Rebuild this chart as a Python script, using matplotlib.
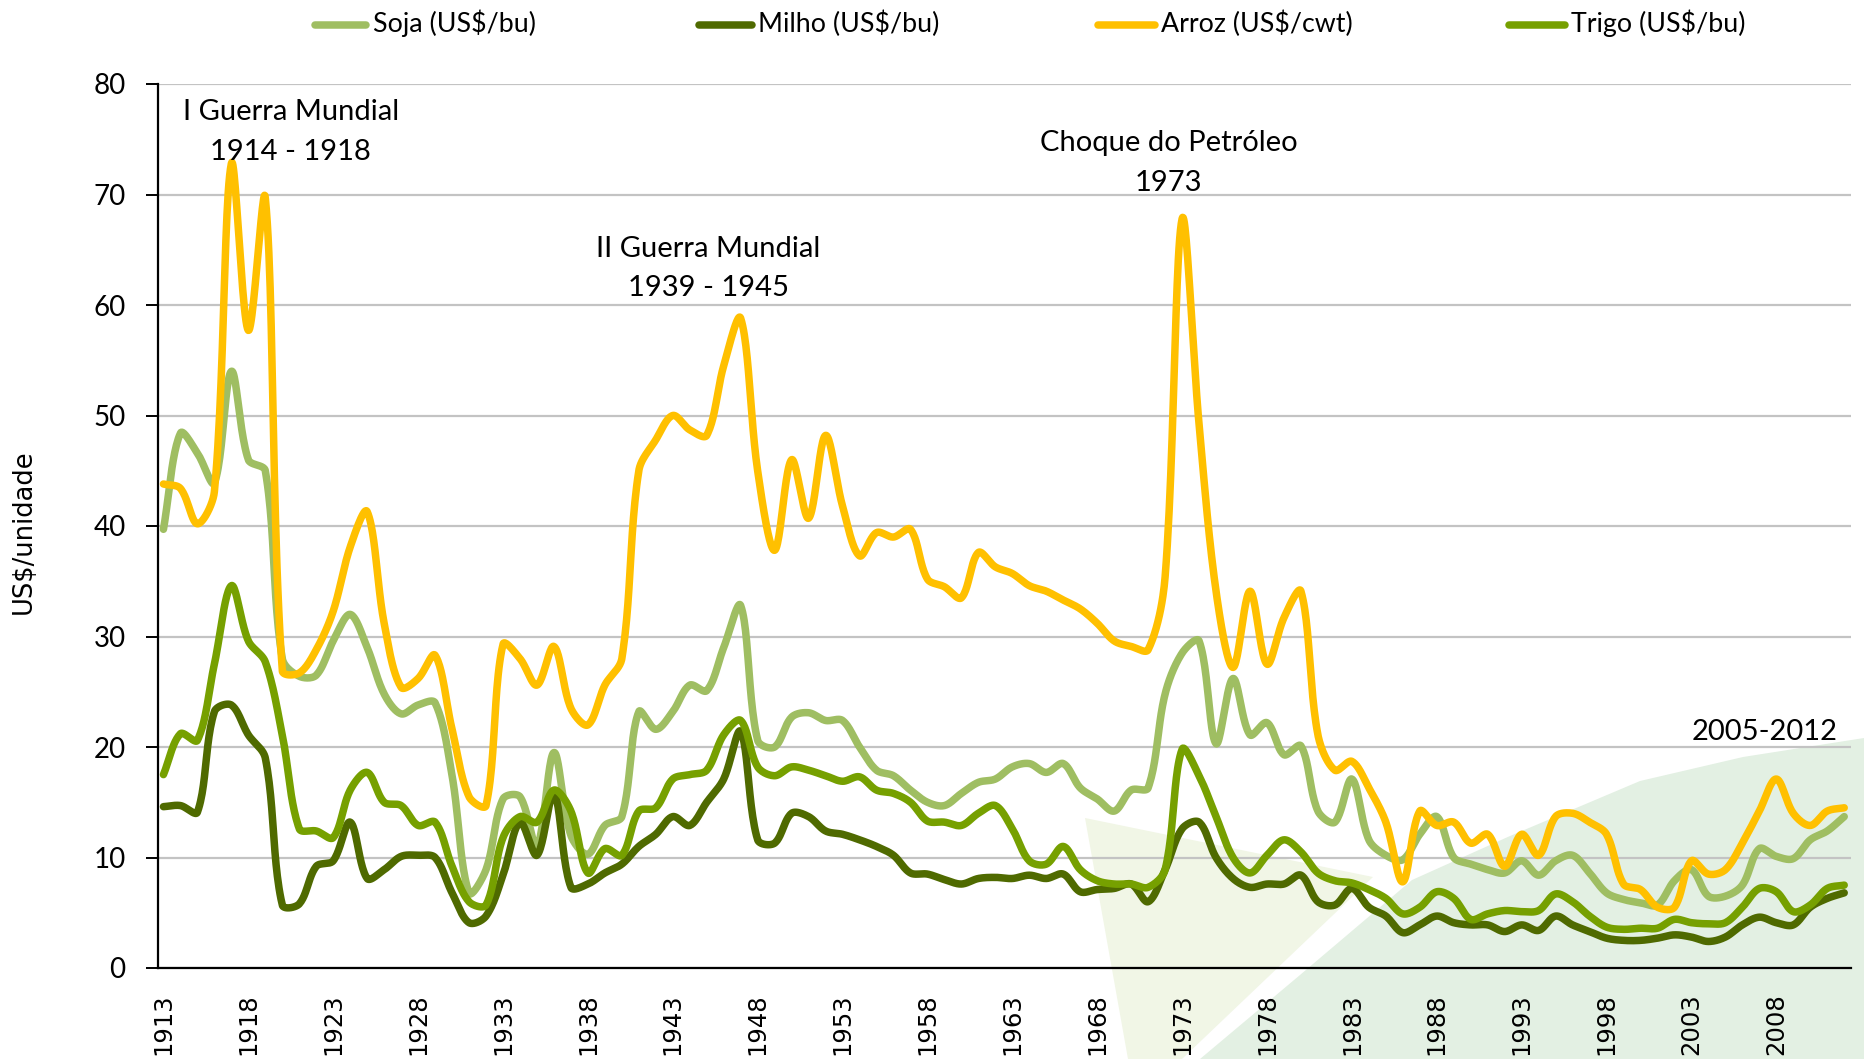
import numpy as np
import matplotlib
matplotlib.use("Agg")
import matplotlib.pyplot as plt
from matplotlib.lines import Line2D
from matplotlib.patches import Polygon

# ---------------- data ----------------
years = list(range(1913, 2013))

soja = [39.7, 48.4, 46.6, 43.9, 54.0, 46.0, 45.0, 28.0, 26.4, 26.5,
        29.6, 32.0, 29.0, 24.8, 23.0, 23.8, 24.0, 17.4, 6.8, 8.9,
        15.3, 15.5, 11.0, 19.5, 12.0, 10.3, 12.9, 13.7, 23.2, 21.6,
        23.2, 25.6, 25.1, 29.0, 32.8, 20.6, 20.0, 22.7, 23.1, 22.4,
        22.4, 20.0, 17.9, 17.4, 16.1, 15.0, 14.7, 15.8, 16.8, 17.1,
        18.2, 18.5, 17.7, 18.5, 16.3, 15.3, 14.2, 16.1, 16.3, 24.8,
        28.5, 29.6, 20.3, 26.2, 21.1, 22.2, 19.3, 20.1, 14.2, 13.2,
        17.1, 11.6, 10.2, 9.8, 12.1, 13.7, 10.0, 9.4, 8.9, 8.6,
        9.7, 8.4, 9.7, 10.2, 8.6, 6.8, 6.2, 5.9, 5.7, 7.9,
        8.9, 6.5, 6.5, 7.5, 10.8, 10.1, 9.9, 11.6, 12.4, 13.7]

milho = [14.6, 14.7, 14.1, 23.2, 23.8, 21.1, 19.0, 5.7, 5.8, 9.2,
         9.7, 13.2, 8.1, 8.9, 10.1, 10.2, 10.0, 6.8, 4.1, 4.7,
         8.4, 13.2, 10.2, 15.8, 7.3, 7.6, 8.6, 9.4, 11.0, 12.1,
         13.7, 12.9, 15.0, 17.1, 21.4, 11.6, 11.3, 14.0, 13.7, 12.4,
         12.1, 11.6, 11.0, 10.2, 8.6, 8.5, 8.0, 7.6, 8.1, 8.2,
         8.1, 8.4, 8.1, 8.5, 6.9, 7.1, 7.2, 7.6, 6.0, 8.9,
         12.6, 13.2, 10.0, 8.1, 7.3, 7.6, 7.6, 8.4, 6.0, 5.7,
         7.2, 5.5, 4.7, 3.2, 3.9, 4.7, 4.1, 3.9, 3.9, 3.3,
         3.9, 3.4, 4.7, 3.9, 3.3, 2.7, 2.5, 2.5, 2.7, 3.0,
         2.8, 2.4, 2.8, 3.9, 4.6, 4.1, 3.9, 5.5, 6.3, 6.8]

arroz = [43.8, 43.4, 40.2, 43.1, 72.8, 57.7, 69.7, 26.9, 26.7, 28.8,
         32.3, 38.1, 41.3, 31.2, 25.4, 26.2, 28.3, 21.6, 15.5, 14.7,
         29.3, 28.0, 25.6, 29.1, 23.5, 22.0, 25.6, 28.0, 45.0, 47.8,
         50.0, 48.7, 48.2, 54.5, 58.8, 45.0, 37.8, 46.0, 40.7, 48.2,
         41.8, 37.3, 39.4, 39.0, 39.7, 35.2, 34.5, 33.5, 37.6, 36.3,
         35.7, 34.6, 34.1, 33.3, 32.5, 31.2, 29.6, 29.1, 28.8, 35.4,
         67.8, 49.2, 34.1, 27.2, 34.1, 27.5, 31.7, 34.1, 21.1, 17.9,
         18.7, 16.3, 13.2, 7.8, 14.2, 12.9, 13.2, 11.3, 12.1, 9.2,
         12.1, 10.2, 13.7, 14.0, 13.2, 12.1, 7.6, 7.1, 5.5, 5.5,
         9.7, 8.5, 8.9, 11.3, 14.2, 17.1, 14.0, 12.9, 14.2, 14.5]

trigo = [17.5, 21.2, 20.6, 27.5, 34.6, 29.6, 27.7, 21.1, 12.6, 12.4,
         11.8, 16.1, 17.7, 15.0, 14.7, 12.9, 13.2, 9.2, 6.0, 5.7,
         11.8, 13.7, 13.2, 16.1, 14.2, 8.6, 10.8, 10.2, 14.2, 14.5,
         17.1, 17.5, 17.9, 21.1, 22.4, 18.2, 17.4, 18.2, 17.9, 17.4,
         16.9, 17.3, 16.1, 15.8, 15.0, 13.3, 13.2, 12.9, 14.0, 14.7,
         12.6, 9.7, 9.4, 11.0, 8.9, 7.9, 7.6, 7.6, 7.3, 8.9,
         19.8, 17.4, 13.7, 10.0, 8.6, 10.2, 11.6, 10.5, 8.6, 7.9,
         7.7, 7.1, 6.3, 4.9, 5.5, 6.9, 6.3, 4.4, 4.9, 5.2,
         5.1, 5.2, 6.7, 6.0, 4.7, 3.7, 3.5, 3.6, 3.6, 4.4,
         4.1, 4.0, 4.1, 5.5, 7.2, 6.9, 5.1, 5.7, 7.2, 7.5]

series_names = ["Soja (US$/bu)", "Milho (US$/bu)", "Arroz (US$/cwt)", "Trigo (US$/bu)"]
series_colors = ["#9FBE62", "#4F6A00", "#FFC000", "#76A000"]

tick_labels = ["1913", "1918", "1923", "1928", "1933", "1938", "1943", "1948",
               "1953", "1958", "1963", "1968", "1973", "1978", "1983", "1988",
               "1993", "1998", "2003", "2008"]
yticks = [0, 10, 20, 30, 40, 50, 60, 70, 80]

# ---------------- helpers ----------------
W, H = 1864, 1059
XPX, YPX = 17.0, 11.05  # screen pixels per year / per unit (for smoothing geometry)


def smooth(x, y, n=24):
    """Length-weighted Bezier smoothing (Excel-like) computed in screen space."""
    pts = np.column_stack([np.asarray(x, float) * XPX, np.asarray(y, float) * YPX])
    m = len(pts)
    cin = np.zeros_like(pts)
    cout = np.zeros_like(pts)
    for i in range(m):
        prv = pts[max(i - 1, 0)]
        nxt = pts[min(i + 1, m - 1)]
        d = nxt - prv
        lp = np.linalg.norm(pts[i] - prv)
        ln = np.linalg.norm(nxt - pts[i])
        tot = lp + ln if lp + ln > 0 else 1.0
        cout[i] = pts[i] + d * (ln / tot) / 3.0
        cin[i] = pts[i] - d * (lp / tot) / 3.0
    t = np.linspace(0, 1, n, endpoint=False)[:, None]
    out = []
    for i in range(m - 1):
        p1, c1, c2, p2 = pts[i], cout[i], cin[i + 1], pts[i + 1]
        seg = (1 - t) ** 3 * p1 + 3 * (1 - t) ** 2 * t * c1 + 3 * (1 - t) * t ** 2 * c2 + t ** 3 * p2
        out.append(seg)
    out.append(pts[-1:])
    o = np.vstack(out)
    return o[:, 0] / XPX, o[:, 1] / YPX


def fpx(px, py):
    return (px / W, 1 - py / H)


narrow = ['Liberation Sans Narrow', 'Lato', 'DejaVu Sans']
plt.rcParams['font.family'] = narrow

fig = plt.figure(figsize=(W / 100, H / 100), dpi=100)
fig.patch.set_facecolor('white')

# background decorative shapes
pale = [fpx(1085, 818), fpx(1373, 877), fpx(1182, 1059), fpx(1128, 1059)]
fig.add_artist(Polygon(pale, closed=True, transform=fig.transFigure,
                       facecolor='#F1F6E6', edgecolor='none', zorder=-5))
green = [fpx(1200, 1059), fpx(1300, 975), fpx(1412, 880), fpx(1510, 836),
         fpx(1640, 781), fpx(1743, 757), fpx(1864, 738), fpx(1864, 1059)]
fig.add_artist(Polygon(green, closed=True, transform=fig.transFigure,
                       facecolor='#E3F0E3', edgecolor='none', zorder=-5))

ax = fig.add_axes([157.5 / W, 1 - 968 / H, (1851 - 157.5) / W, (968 - 84) / H])
ax.set_facecolor('none')

for data, col in zip([soja, milho, arroz, trigo], series_colors):
    sx, sy = smooth(years, data)
    ax.plot(sx, sy, color=col, lw=5.4, solid_capstyle='round',
            solid_joinstyle='round', zorder=3)

ax.set_xlim(1912.65, 2012.4)
ax.set_ylim(0, 80)
ax.set_yticks(yticks)
ax.set_yticklabels([str(v) for v in yticks], fontsize=20, family=narrow)
ax.yaxis.grid(True, color='#C3C3C3', lw=1.6, zorder=1)
ax.set_axisbelow(True)
ax.tick_params(axis='y', length=9, width=1.4, pad=14, direction='out', color='black')

tick_pos = [int(t) for t in tick_labels]
ax.set_xticks(tick_pos)
ax.set_xticklabels(tick_labels, rotation=90, fontsize=17.5, family='DejaVu Sans')
ax.tick_params(axis='x', length=0, pad=18)

for sp in ['top', 'right']:
    ax.spines[sp].set_visible(False)
ax.spines['left'].set_linewidth(1.6)
ax.spines['bottom'].set_linewidth(1.6)

ax.set_ylabel("US$/unidade", fontsize=18.5, family='DejaVu Sans')
ax.yaxis.set_label_coords((24 - 157.5) / (1851 - 157.5), 0.494)
ax.yaxis.label.set_va('center')

# annotations
afs = 21
ax.text(1920.5, 77.45, "I Guerra Mundial", ha='center', va='center', fontsize=afs)
ax.text(1920.5, 73.85, "1914 - 1918", ha='center', va='center', fontsize=afs)
ax.text(1945.1, 65.05, "II Guerra Mundial", ha='center', va='center', fontsize=afs)
ax.text(1945.1, 61.55, "1939 - 1945", ha='center', va='center', fontsize=afs)
ax.text(1972.2, 74.65, "Choque do Petróleo", ha='center', va='center', fontsize=afs)
ax.text(1972.2, 71.05, "1973", ha='center', va='center', fontsize=afs)
ax.text(2007.3, 21.4, "2005-2012", ha='center', va='center', fontsize=afs)

# legend (manual)
leg_x = [(315, 366, 373), (699, 752, 758), (1098, 1155, 1161), (1509, 1565, 1571)]
for (x0, x1, xt), name, col in zip(leg_x, series_names, series_colors):
    (fx0, fy), (fx1, _) = fpx(x0, 25), fpx(x1, 25)
    fig.add_artist(Line2D([fx0, fx1], [fy, fy], transform=fig.transFigure,
                          color=col, lw=5.4, solid_capstyle='round'))
    fig.text(xt / W, 1 - 23.5 / H, name, ha='left', va='center', fontsize=19.3)

fig.savefig("out.png", dpi=100, facecolor='white')
